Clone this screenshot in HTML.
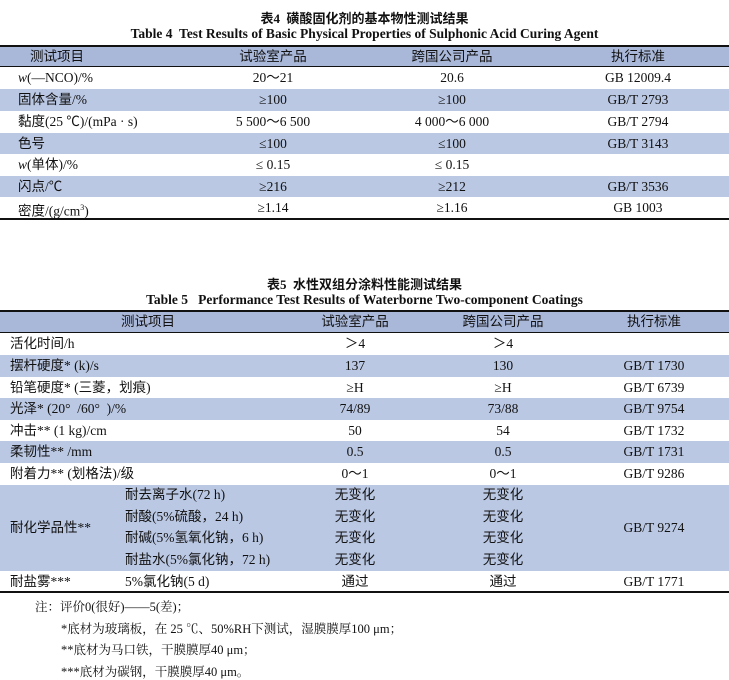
<!DOCTYPE html>
<html><head><meta charset="utf-8"><style>
body{margin:0;width:729px;height:678px;background:#fff;position:relative;overflow:hidden;font-family:"Liberation Serif","Noto Sans CJK SC",serif;color:#111;}
.t{position:absolute;font-size:13.5px;line-height:16px;white-space:nowrap;}
.c{transform:translateX(-50%);}
.ttl{position:absolute;left:0;width:729px;text-align:center;font-weight:bold;white-space:nowrap;}
.bg{position:absolute;left:0;width:729px;}
.h{background:#a9b8d9;}
.s{background:#bac8e3;}
.ln{position:absolute;left:0;width:729px;height:2px;background:#111;}
.n{position:absolute;font-family:"Liberation Serif","Noto Serif CJK SC",serif;font-size:12.5px;white-space:nowrap;}
</style></head><body>
<div class="ttl" style="top:8px;font-size:13px;font-family:'Liberation Serif','Noto Sans CJK SC',sans-serif">表4&nbsp; 磺酸固化剂的基本物性测试结果</div>
<div class="ttl" style="top:26px;font-size:13.5px">Table 4&nbsp; Test Results of Basic Physical Properties of Sulphonic Acid Curing Agent</div>
<div class="bg h" style="top:46px;height:21px"></div>
<div class="ln" style="top:45px"></div>
<div class="ln" style="top:66px;height:1px"></div>
<div class="bg s" style="top:89px;height:22px"></div>
<div class="bg s" style="top:133px;height:21px"></div>
<div class="bg s" style="top:176px;height:21px"></div>
<div class="ln" style="top:218px"></div>
<div class="t" style="left:30px;top:49px">测试项目</div>
<div class="t c" style="left:273px;top:49px">试验室产品</div>
<div class="t c" style="left:452px;top:49px">跨国公司产品</div>
<div class="t c" style="left:638px;top:49px">执行标准</div>

<div class="t" style="left:18px;top:70px"><i>w</i>(—NCO)/%</div><div class="t c" style="left:273px;top:70px">20～21</div><div class="t c" style="left:452px;top:70px">20.6</div><div class="t c" style="left:638px;top:70px">GB 12009.4</div>
<div class="t" style="left:18px;top:92px">固体含量/%</div><div class="t c" style="left:273px;top:92px">≥100</div><div class="t c" style="left:452px;top:92px">≥100</div><div class="t c" style="left:638px;top:92px">GB/T 2793</div>
<div class="t" style="left:18px;top:114px">黏度(25 ℃)/(mPa · s)</div><div class="t c" style="left:273px;top:114px">5 500～6 500</div><div class="t c" style="left:452px;top:114px">4 000～6 000</div><div class="t c" style="left:638px;top:114px">GB/T 2794</div>
<div class="t" style="left:18px;top:136px">色号</div><div class="t c" style="left:273px;top:136px">≤100</div><div class="t c" style="left:452px;top:136px">≤100</div><div class="t c" style="left:638px;top:136px">GB/T 3143</div>
<div class="t" style="left:18px;top:157px"><i>w</i>(单体)/%</div><div class="t c" style="left:273px;top:157px">≤ 0.15</div><div class="t c" style="left:452px;top:157px">≤ 0.15</div>
<div class="t" style="left:18px;top:179px">闪点/℃</div><div class="t c" style="left:273px;top:179px">≥216</div><div class="t c" style="left:452px;top:179px">≥212</div><div class="t c" style="left:638px;top:179px">GB/T 3536</div>
<div class="t" style="left:18px;top:200px">密度/(g/cm<sup style="font-size:8px">3</sup>)</div><div class="t c" style="left:273px;top:200px">≥1.14</div><div class="t c" style="left:452px;top:200px">≥1.16</div><div class="t c" style="left:638px;top:200px">GB 1003</div>

<div class="ttl" style="top:274px;font-size:13px;font-family:'Liberation Serif','Noto Sans CJK SC',sans-serif">表5&nbsp; 水性双组分涂料性能测试结果</div>
<div class="ttl" style="top:292px;font-size:13.5px">Table 5&nbsp;&nbsp; Performance Test Results of Waterborne Two-component Coatings</div>
<div class="bg h" style="top:311px;height:22px"></div>
<div class="ln" style="top:310px"></div>
<div class="ln" style="top:332px;height:1px"></div>
<div class="bg s" style="top:355px;height:22px"></div>
<div class="bg s" style="top:398px;height:22px"></div>
<div class="bg s" style="top:441px;height:22px"></div>
<div class="bg s" style="top:485px;height:86px"></div>
<div class="ln" style="top:591px"></div>
<div class="t c" style="left:148px;top:314px">测试项目</div>
<div class="t c" style="left:355px;top:314px">试验室产品</div>
<div class="t c" style="left:503px;top:314px">跨国公司产品</div>
<div class="t c" style="left:654px;top:314px">执行标准</div>

<div class="t" style="left:10px;top:336px">活化时间/h</div><div class="t c" style="left:355px;top:336px">＞4</div><div class="t c" style="left:503px;top:336px">＞4</div>
<div class="t" style="left:10px;top:358px">摆杆硬度* (k)/s</div><div class="t c" style="left:355px;top:358px">137</div><div class="t c" style="left:503px;top:358px">130</div><div class="t c" style="left:654px;top:358px">GB/T 1730</div>
<div class="t" style="left:10px;top:380px">铅笔硬度* (三菱，划痕)</div><div class="t c" style="left:355px;top:380px">≥H</div><div class="t c" style="left:503px;top:380px">≥H</div><div class="t c" style="left:654px;top:380px">GB/T 6739</div>
<div class="t" style="left:10px;top:401px">光泽* (20°&nbsp; /60°&nbsp; )/%</div><div class="t c" style="left:355px;top:401px">74/89</div><div class="t c" style="left:503px;top:401px">73/88</div><div class="t c" style="left:654px;top:401px">GB/T 9754</div>
<div class="t" style="left:10px;top:423px">冲击** (1 kg)/cm</div><div class="t c" style="left:355px;top:423px">50</div><div class="t c" style="left:503px;top:423px">54</div><div class="t c" style="left:654px;top:423px">GB/T 1732</div>
<div class="t" style="left:10px;top:444px">柔韧性** /mm</div><div class="t c" style="left:355px;top:444px">0.5</div><div class="t c" style="left:503px;top:444px">0.5</div><div class="t c" style="left:654px;top:444px">GB/T 1731</div>
<div class="t" style="left:10px;top:466px">附着力** (划格法)/级</div><div class="t c" style="left:355px;top:466px">0～1</div><div class="t c" style="left:503px;top:466px">0～1</div><div class="t c" style="left:654px;top:466px">GB/T 9286</div>

<div class="t" style="left:10px;top:520px">耐化学品性**</div><div class="t c" style="left:654px;top:520px">GB/T 9274</div>
<div class="t" style="left:125px;top:487px">耐去离子水(72 h)</div><div class="t c" style="left:355px;top:487px">无变化</div><div class="t c" style="left:503px;top:487px">无变化</div>
<div class="t" style="left:125px;top:509px">耐酸(5%硫酸，24 h)</div><div class="t c" style="left:355px;top:509px">无变化</div><div class="t c" style="left:503px;top:509px">无变化</div>
<div class="t" style="left:125px;top:530px">耐碱(5%氢氧化钠，6 h)</div><div class="t c" style="left:355px;top:530px">无变化</div><div class="t c" style="left:503px;top:530px">无变化</div>
<div class="t" style="left:125px;top:552px">耐盐水(5%氯化钠，72 h)</div><div class="t c" style="left:355px;top:552px">无变化</div><div class="t c" style="left:503px;top:552px">无变化</div>
<div class="t" style="left:10px;top:574px">耐盐雾***</div><div class="t" style="left:125px;top:574px">5%氯化钠(5 d)</div><div class="t c" style="left:355px;top:574px">通过</div><div class="t c" style="left:503px;top:574px">通过</div><div class="t c" style="left:654px;top:574px">GB/T 1771</div>

<div class="n" style="left:35px;top:597px">注：评价0(很好)——5(差)；</div>
<div class="n" style="left:61px;top:619px">*底材为玻璃板，在 25 ℃、50%RH下测试，湿膜膜厚100 μm；</div>
<div class="n" style="left:61px;top:640px">**底材为马口铁，干膜膜厚40 μm；</div>
<div class="n" style="left:61px;top:662px">***底材为碳钢，干膜膜厚40 μm。</div>
</body></html>
